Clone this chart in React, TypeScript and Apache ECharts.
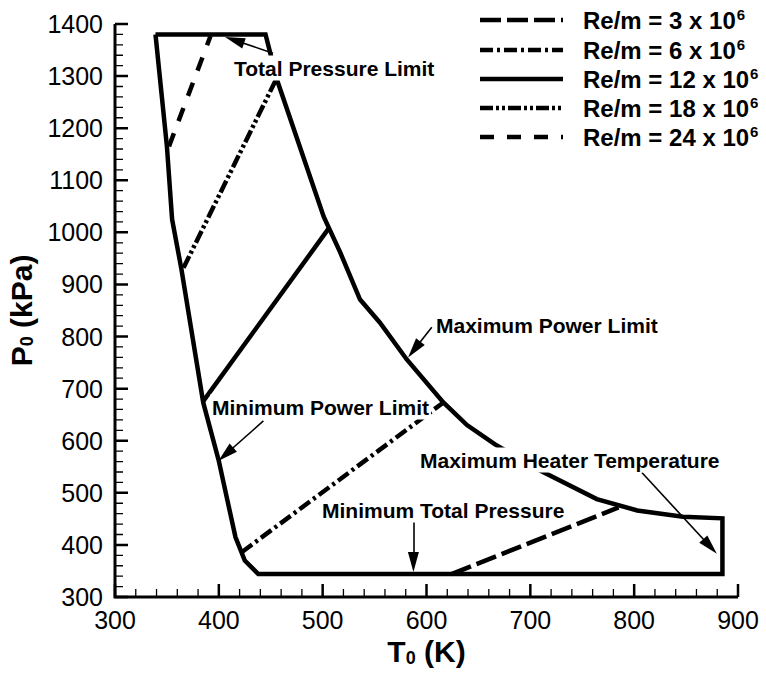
import React, { useEffect, useRef } from "react";
import * as echarts from "echarts";

const FONT = "'Liberation Sans', Arial, Helvetica, sans-serif";

// Operating envelope (closed outline)
const boundaryT = [339, 445, 456, 501, 517, 536, 555, 581, 616, 639, 666, 706, 764, 803, 847, 885, 885, 438, 425, 416, 400, 385, 364, 355, 350, 339];
const boundaryP = [1380, 1380, 1293, 1030, 961, 871, 827, 756, 674, 630, 593, 546, 488, 466, 454, 451, 344, 344, 370, 415, 561, 673, 929, 1025, 1165, 1380];

// Constant unit Reynolds number lines
const re3T = [624, 785];
const re3P = [344, 472];
const re6T = [422, 616];
const re6P = [386, 673];
const re12T = [385, 506];
const re12P = [676, 1008];
const re18T = [366, 455];
const re18P = [932, 1293];
const re24T = [352, 392];
const re24P = [1165, 1377];

const reBase = ["Re/m = 3 x 10", "Re/m = 6 x 10", "Re/m = 12 x 10", "Re/m = 18 x 10", "Re/m = 24 x 10"];
const reExp = ["6", "6", "6", "6", "6"];

// Annotation labels
const annoTexts = ["Total Pressure Limit", "Maximum Power Limit", "Minimum Power Limit", "Maximum Heater Temperature", "Minimum Total Pressure"];
// arrows (tail -> head centre) in data coordinates
const arrowTailT = [452.2, 605.1, 442.9, 807.4, 587.4];
const arrowTailP = [1344, 818, 638, 539, 459];
const arrowHeadT = [415.1, 588.2, 406.7, 873.1, 587.4];
const arrowHeadP = [1369, 775, 574, 397, 367];

// axis settings
const xMin = 300, xMax = 900, xStep = 100;
const yMin = 300, yMax = 1400, yStep = 100;
const minorSplit = 5;

const GRID = { left: 115, right: 28, top: 24, bottom: 84 };
const W = 766, H = 681;

const zip = (a: number[], b: number[]) => a.map((v, i) => [v, b[i]]);

export default function App() {
  const ref = useRef<HTMLDivElement>(null);
  useEffect(() => {
    if (!ref.current) return;
    const chart = echarts.init(ref.current, undefined, { renderer: "svg" });
    const reData = [zip(re3T, re3P), zip(re6T, re6P), zip(re12T, re12P), zip(re18T, re18P), zip(re24T, re24P)];
    const dashes: any[] = [[21, 6], [13, 4, 3, 4], "solid", [13, 3, 3, 3, 3, 3], [14, 13]];

    const annoPos = [
      [232, 68],
      [434, 325],
      [210, 407],
      [418, 460],
      [320, 510],
    ];
    const legendY = [20, 50, 79, 108, 137];
    const richName = {
      a: { fontFamily: FONT, fontWeight: "bold", fontSize: 30, color: "#000" },
      b: { fontFamily: FONT, fontWeight: "bold", fontSize: 18, color: "#000", verticalAlign: "bottom" },
    };

    // data units per pixel (for tick lengths)
    const kx = (xMax - xMin) / (W - GRID.left - GRID.right);
    const ky = (yMax - yMin) / (H - GRID.top - GRID.bottom);

    const tickData = (major: boolean, isX: boolean) => {
      const out: any[] = [];
      const step = (isX ? xStep : yStep) / minorSplit;
      const lo = isX ? xMin : yMin;
      const hi = isX ? xMax : yMax;
      const len = major ? 13 : 8;
      for (let k = 0; lo + k * step <= hi + 1e-9; k++) {
        if ((k % minorSplit === 0) !== major) continue;
        const v = lo + k * step;
        if (isX) out.push([v, yMin], [v, yMin + len * ky], [v, "-"]);
        else out.push([xMin, v], [xMin + len * kx, v], ["-", v]);
      }
      return out;
    };

    const axisCommon = () => ({
      type: "value",
      nameLocation: "middle",
      nameTextStyle: { rich: richName },
      axisLine: { show: false },
      axisTick: { show: false },
      minorTick: { show: false },
      splitLine: { show: false },
      axisLabel: {
        fontFamily: FONT,
        fontSize: 25,
        color: "#000",
        margin: 10,
        formatter: (v: number) => String(v),
      },
    });

    const frameSeries = (data: any[], width: number) => ({
      type: "line",
      showSymbol: false,
      symbol: "none",
      clip: false,
      connectNulls: false,
      z: 5,
      data,
      lineStyle: { color: "#000", width, cap: "butt", join: "miter" },
    });

    chart.setOption({
      animation: false,
      grid: { ...GRID, outerBoundsMode: "none" },
      xAxis: {
        ...axisCommon(),
        min: xMin,
        max: xMax,
        interval: xStep,
        name: "{a|T}{b|0}{a| (K)}",
        nameGap: 35,
      },
      yAxis: {
        ...axisCommon(),
        axisLabel: { ...axisCommon().axisLabel, margin: 12 },
        min: yMin,
        max: yMax,
        interval: yStep,
        name: "{a|P}{b|0}{a| (kPa)}",
        nameGap: 70,
      },
      series: [
        {
          type: "line",
          name: "boundary",
          showSymbol: false,
          symbol: "none",
          data: zip(boundaryT, boundaryP),
          lineStyle: { color: "#000", width: 4.5, join: "miter", cap: "butt" },
          markLine: {
            silent: true,
            animation: false,
            symbol: ["none", "triangle"],
            symbolSize: [11, 20],
            label: { show: false },
            lineStyle: { color: "#000", width: 1.6, type: "solid" },
            itemStyle: { color: "#000" },
            data: arrowTailT.map((t, i) => [
              { coord: [t, arrowTailP[i]] },
              { coord: [arrowHeadT[i], arrowHeadP[i]] },
            ]),
          },
        },
        ...reBase.map((name, i) => ({
          type: "line",
          name: name + "^" + reExp[i],
          showSymbol: false,
          symbol: "none",
          data: reData[i],
          lineStyle: { color: "#000", width: 4.5, type: dashes[i], cap: "butt" },
        })),
        // axis frame (left and bottom) and ticks
        frameSeries([[xMin, yMax], [xMin, yMin], [xMax, yMin]], 3),
        frameSeries(tickData(true, true), 2.5),
        frameSeries(tickData(false, true), 1.3),
        frameSeries(tickData(true, false), 2.5),
        frameSeries(tickData(false, false), 1.3),
      ],
      graphic: [
        ...annoTexts.map((text, i) => ({
          type: "text",
          x: annoPos[i][0],
          y: annoPos[i][1],
          z: 100,
          style: {
            text,
            font: `bold 21px ${FONT}`,
            fill: "#000",
            align: "left",
            verticalAlign: "middle",
            backgroundColor: "#fff",
            padding: [2, 2],
          },
        })),
        ...reBase.map((_, i) => ({
          type: "line",
          z: 100,
          shape: { x1: 480, y1: legendY[i], x2: 563, y2: legendY[i] },
          style: {
            stroke: "#000",
            lineWidth: 4.5,
            lineDash: dashes[i] === "solid" ? null : dashes[i],
            lineCap: "butt",
          },
        })),
        ...reBase.map((base, i) => ({
          type: "text",
          x: 583,
          y: legendY[i],
          z: 100,
          style: {
            text: `{t|${base}}{s|${reExp[i]}}`,
            verticalAlign: "middle",
            align: "left",
            rich: {
              t: { fontFamily: FONT, fontWeight: "bold", fontSize: 24, fill: "#000", lineHeight: 28 },
              s: { fontFamily: FONT, fontWeight: "bold", fontSize: 15, fill: "#000", verticalAlign: "top", padding: [1, 0, 0, 1] },
            },
          },
        })),
      ],
    });
    return () => chart.dispose();
  }, []);
  return <div ref={ref} style={{ position: "fixed", left: 0, top: 0, width: 766, height: 681, background: "#fff" }} />;
}
